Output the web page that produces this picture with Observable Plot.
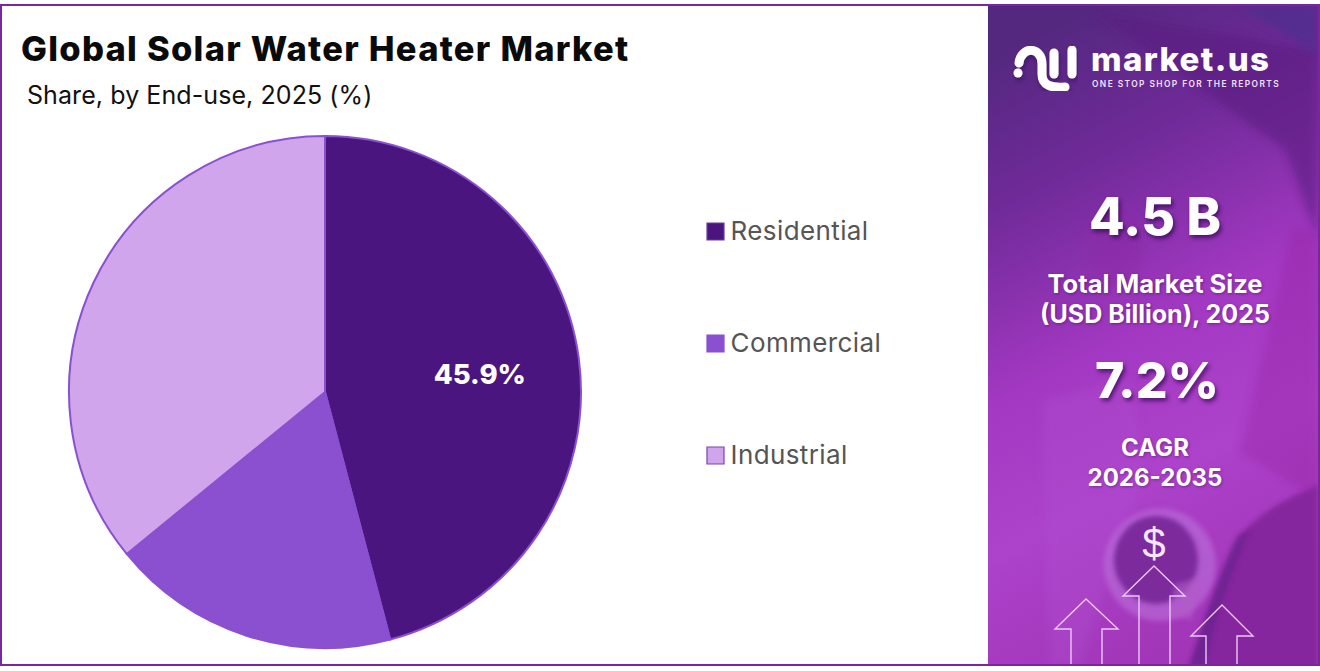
<!DOCTYPE html>
<html><head><meta charset="utf-8">
<script src="https://cdn.jsdelivr.net/npm/d3@7"></script>
<script src="https://cdn.jsdelivr.net/npm/@observablehq/plot@0.6"></script>
<style>
html,body{margin:0;padding:0;background:#fff;overflow:hidden}
#page{position:relative;width:1320px;height:671px;font-family:Inter,sans-serif;overflow:hidden}
#frame{position:absolute;left:0;top:4px;width:1320px;height:662px;box-sizing:border-box;border:2px solid #7a269f}
.abs{position:absolute;white-space:nowrap}
#title{left:21px;top:28px;font-size:34.5px;font-weight:800;color:#0a0a0a;line-height:42px;letter-spacing:1.27px}
#sub{left:27px;top:78px;font-size:25px;font-weight:400;color:#111;line-height:34px;letter-spacing:.08px}
#panel{position:absolute;left:988px;top:6px}
.c{position:absolute;left:989px;width:332px;text-align:center;color:#fff;white-space:nowrap}
.big{font-size:52px;font-weight:800;line-height:60px;text-shadow:2px 3px 4px rgba(40,0,70,.65)}
.mid{font-size:24px;font-weight:700;line-height:30px;text-shadow:1px 1px 3px rgba(40,0,70,.4)}
#plotwrap,#legendwrap{position:absolute;left:0;top:0}
#plotwrap{left:65px;top:132px}
</style></head><body>
<div id="page">
<svg id="panel" width="330" height="660" viewBox="988 6 330 660" xmlns="http://www.w3.org/2000/svg">
 <defs>
  <linearGradient id="bg" x1="0.3" y1="0" x2="0.55" y2="1">
   <stop offset="0" stop-color="#54287f"/><stop offset=".22" stop-color="#6f2a98"/>
   <stop offset=".5" stop-color="#a338c2"/><stop offset=".72" stop-color="#ad42cb"/><stop offset="1" stop-color="#a035b6"/>
  </linearGradient>
  <filter id="b4"><feGaussianBlur stdDeviation="5"/></filter>
  <filter id="b2"><feGaussianBlur stdDeviation="2.5"/></filter>
  <filter id="sh"><feDropShadow dx="1" dy="3" stdDeviation="2" flood-color="#300050" flood-opacity=".5"/></filter>
 </defs>
 <rect x="988" y="6" width="330" height="660" fill="url(#bg)"/>
 <path d="M1095 12 L1318 50 L1318 240 L1285 150 Z" fill="#5a1c80" opacity=".6" filter="url(#b4)"/>
 <path d="M1240 6 L1318 6 L1318 55 Z" fill="#4e2f8e" opacity=".7" filter="url(#b4)"/>
 <path d="M1293 225 L1318 235 L1318 500 L1240 452 Z" fill="#93249f" opacity=".35" filter="url(#b4)"/>
 <ellipse cx="1115" cy="245" rx="28" ry="40" fill="#8c2aa6" opacity=".45" filter="url(#b4)"/>
 <path d="M1042 400 L1130 380 L1145 470 L1130 510 L1080 666 L1050 666 Z" fill="#b04fd0" opacity=".35" filter="url(#b4)"/>
 <ellipse cx="1160" cy="565" rx="56" ry="56" fill="#bd75dd" opacity=".55" filter="url(#b2)"/>
 <ellipse cx="1156" cy="560" rx="42" ry="44" fill="#7b2a9c" filter="url(#b2)"/>
 <path d="M1175 584 L1198 578 L1192 620 L1170 615 Z" fill="#b25bc9" opacity=".6" filter="url(#b2)"/>
 <path d="M1188 671 C1205 620 1222 568 1245 530 C1270 505 1295 495 1318 485 L1318 671 Z" fill="#86259e" filter="url(#b2)"/>
 <path d="M1190 666 C1205 620 1220 570 1238 535 L1250 530 C1228 580 1215 620 1205 666 Z" fill="#6a2090" opacity=".8" filter="url(#b2)"/>
 <g filter="url(#sh)" fill="none" stroke="#fff" stroke-width="9" stroke-linecap="round">
  <path d="M1019 63 C1021 46 1042 46 1042 64 L1042 74 C1042 86 1052 88 1065 87"/>
  <path d="M1054 53 L1054 74"/><path d="M1072 50 L1072 74"/>
  <path d="M1018 73 L1018 73.1"/>
 </g>
 <g fill="none" stroke="#ecc8f7" stroke-width="1.4">
  <path d="M1071 667 L1071 629 L1055 629 L1086 599 L1118 629 L1102 629 L1102 667"/>
  <path d="M1139 667 L1139 596 L1123 596 L1154 566 L1185 596 L1170 596 L1170 667"/>
  <path d="M1206 667 L1206 636 L1191 636 L1222 605 L1253 636 L1237 636 L1237 667"/>
 </g>
 <text x="1154" y="558" text-anchor="middle" font-family="Liberation Sans" font-size="42" fill="#f6e6fb">$</text>
</svg>
<div id="frame"></div>
<div class="abs" id="title">Global Solar Water Heater Market</div>
<div class="abs" id="sub">Share, by End-use, 2025 (%)</div>

<div class="abs" style="left:1091px;top:39px;font-size:33px;font-weight:800;color:#fff;line-height:40px;letter-spacing:1.35px">market.us</div>
<div class="abs" style="left:1092px;top:79px;font-size:8.4px;font-weight:600;color:#f2e2f8;line-height:10px;letter-spacing:1.42px">ONE STOP SHOP FOR THE REPORTS</div>

<div class="c big" style="top:187px">4.5 B</div>
<div class="c mid" style="top:269px;font-size:25.5px">Total Market Size</div>
<div class="c mid" style="top:299px;font-size:25px">(USD Billion), 2025</div>
<div class="c big" style="top:350px;font-size:50px;left:991px">7.2%</div>
<div class="c mid" style="top:433px">CAGR</div>
<div class="c mid" style="top:463px">2026-2035</div>

<div id="plotwrap"></div>
<div id="legendwrap"></div>
</div>
<script>
const categories = ["Residential", "Commercial", "Industrial"];
const shares = [45.9, 18.2, 35.9];
const sliceLabels = ["45.9%", "", ""];
const sliceColors = ["#4b1580", "#8a50d0", "#d0a5ec"];
const legendEdge = ["#6a3ca0", "#8a50d0", "#7a45b0"];
const rows = categories.map((category, i) => ({category, share: shares[i], label: sliceLabels[i], edge: legendEdge[i]}));

const size = 520, radius = 256;

// Stacked bar whose x scale spans a full turn, rendered as pie wedges.
const pie = Plot.barX(rows, {
  x: "share",
  fill: "category",
  render(index, scales, values, dimensions) {
    const arc = d3.arc().innerRadius(0).outerRadius(radius);
    const g = d3.create("svg:g").attr("transform", `translate(${size / 2},${size / 2})`);
    for (const i of index) {
      const d = {startAngle: values.x1[i], endAngle: values.x2[i]};
      g.append("path").attr("d", arc(d)).attr("fill", values.fill[i])
        .attr("stroke", "#8a50d0").attr("stroke-width", 2);
      if (rows[i].label) {
        const mid = (d.startAngle + d.endAngle) / 2, r = radius * 0.61;
        g.append("text").text(rows[i].label)
          .attr("x", r * Math.sin(mid)).attr("y", -r * Math.cos(mid))
          .attr("text-anchor", "middle").attr("dy", "0.42em")
          .attr("fill", "#fff").attr("font-size", 27.5).attr("font-weight", 800)
          .attr("font-family", "Inter, sans-serif");
      }
    }
    return g.node();
  }
});

document.getElementById("plotwrap").append(Plot.plot({
  width: size, height: size,
  margin: 0,
  x: {domain: [0, 100], range: [0, 2 * Math.PI], axis: null},
  color: {domain: categories, range: sliceColors},
  marks: [pie]
}));

document.getElementById("legendwrap").append(Plot.plot({
  width: 980, height: 671,
  margin: 0,
  style: {background: "transparent", letterSpacing: "0.4px"},
  x: {domain: [0, 980], range: [0, 980], axis: null},
  y: {type: "point", domain: categories, range: [231, 455], padding: 0, axis: null},
  color: {domain: categories, range: sliceColors},
  marks: [
    Plot.dot(rows, {y: "category", x: () => 715, symbol: "square", r: 9.6, fill: "category", stroke: "edge", strokeWidth: 1.2}),
    Plot.text(rows, {y: "category", x: () => 730, text: "category", textAnchor: "start", fill: "#555", fontSize: 26, fontFamily: "Inter, sans-serif"})
  ]
}));
</script>
</body></html>
